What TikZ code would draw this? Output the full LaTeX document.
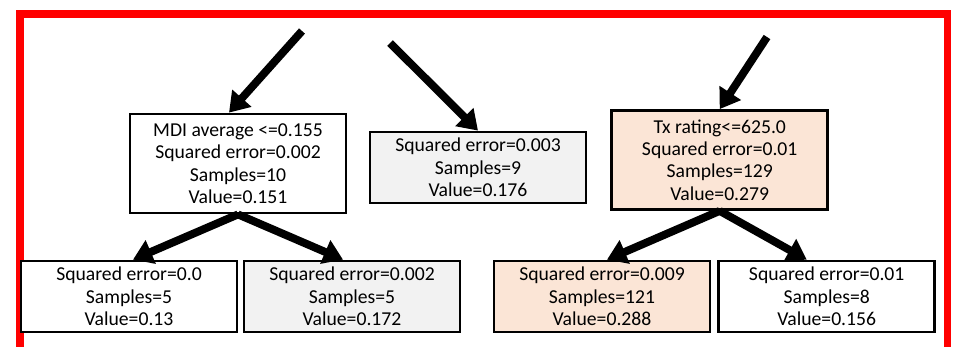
\documentclass[tikz,border=0pt]{standalone}
\usepackage{fontspec}
\setmainfont{Carlito}
\usetikzlibrary{arrows.meta}
\definecolor{leafgray}{HTML}{F2F2F2}
\definecolor{peach}{HTML}{FBE5D6}
\begin{document}
\begin{tikzpicture}[x=0.02cm,y=-0.02cm,
    box/.style={draw,line width=1.6pt,align=center,inner sep=0pt,
      minimum width=4.32cm,font=\fontsize{11.2}{12.8}\selectfont},
    split/.style={box,minimum height=1.98cm},
    leaf/.style={box,minimum height=1.42cm},
    branch/.style={line width=4.5pt,-{Triangle[length=11pt,width=14pt]}}]
        \clip (0,0) rectangle (955,346);
        \draw [red, line width=4.5pt] (20,360) -- (20,14) -- (947.5,14) -- (947.5,360);
        % upper row
        \node [split, fill=white] (mdi) at (238,163.5) {MDI average <=0.155\\Squared error=0.002\\Samples=10\\Value=0.151};
        \node [leaf, fill=leafgray] (mid) at (478,167.5) {Squared error=0.003\\Samples=9\\Value=0.176};
        \node [split, fill=peach] (tx) at (719.7,160) {Tx rating<=625.0\\Squared error=0.01\\Samples=129\\Value=0.279};
        % lower row
        \node [leaf, fill=white] (la) at (129,296.5) {Squared error=0.0\\Samples=5\\Value=0.13};
        \node [leaf, fill=leafgray] (lb) at (352,296.5) {Squared error=0.002\\Samples=5\\Value=0.172};
        \node [leaf, fill=peach] (lc) at (602,296.5) {Squared error=0.009\\Samples=121\\Value=0.288};
        \node [leaf, fill=white] (ld) at (826.7,296.5) {Squared error=0.01\\Samples=8\\Value=0.156};
        % free ends of the incoming arrows
        \coordinate (s1) at (302,31);
        \coordinate (s2) at (390,43);
        \coordinate (s3) at (767,37);
        \draw [branch] (s1) -- ([xshift=-0.18cm]mdi.north);
        \draw [branch] (s2) -- (mid.north);
        \draw [branch] (s3) -- (tx.north);
        \draw [branch] (mdi.south) -- ([xshift=0.08cm]la.north);
        \draw [branch] (mdi.south) -- ([xshift=-0.18cm]lb.north);
        \draw [branch] (tx.south) -- ([xshift=0.1cm]lc.north);
        \draw [branch] (tx.south) -- ([xshift=-0.4cm]ld.north);
      \end{tikzpicture}
\end{document}
